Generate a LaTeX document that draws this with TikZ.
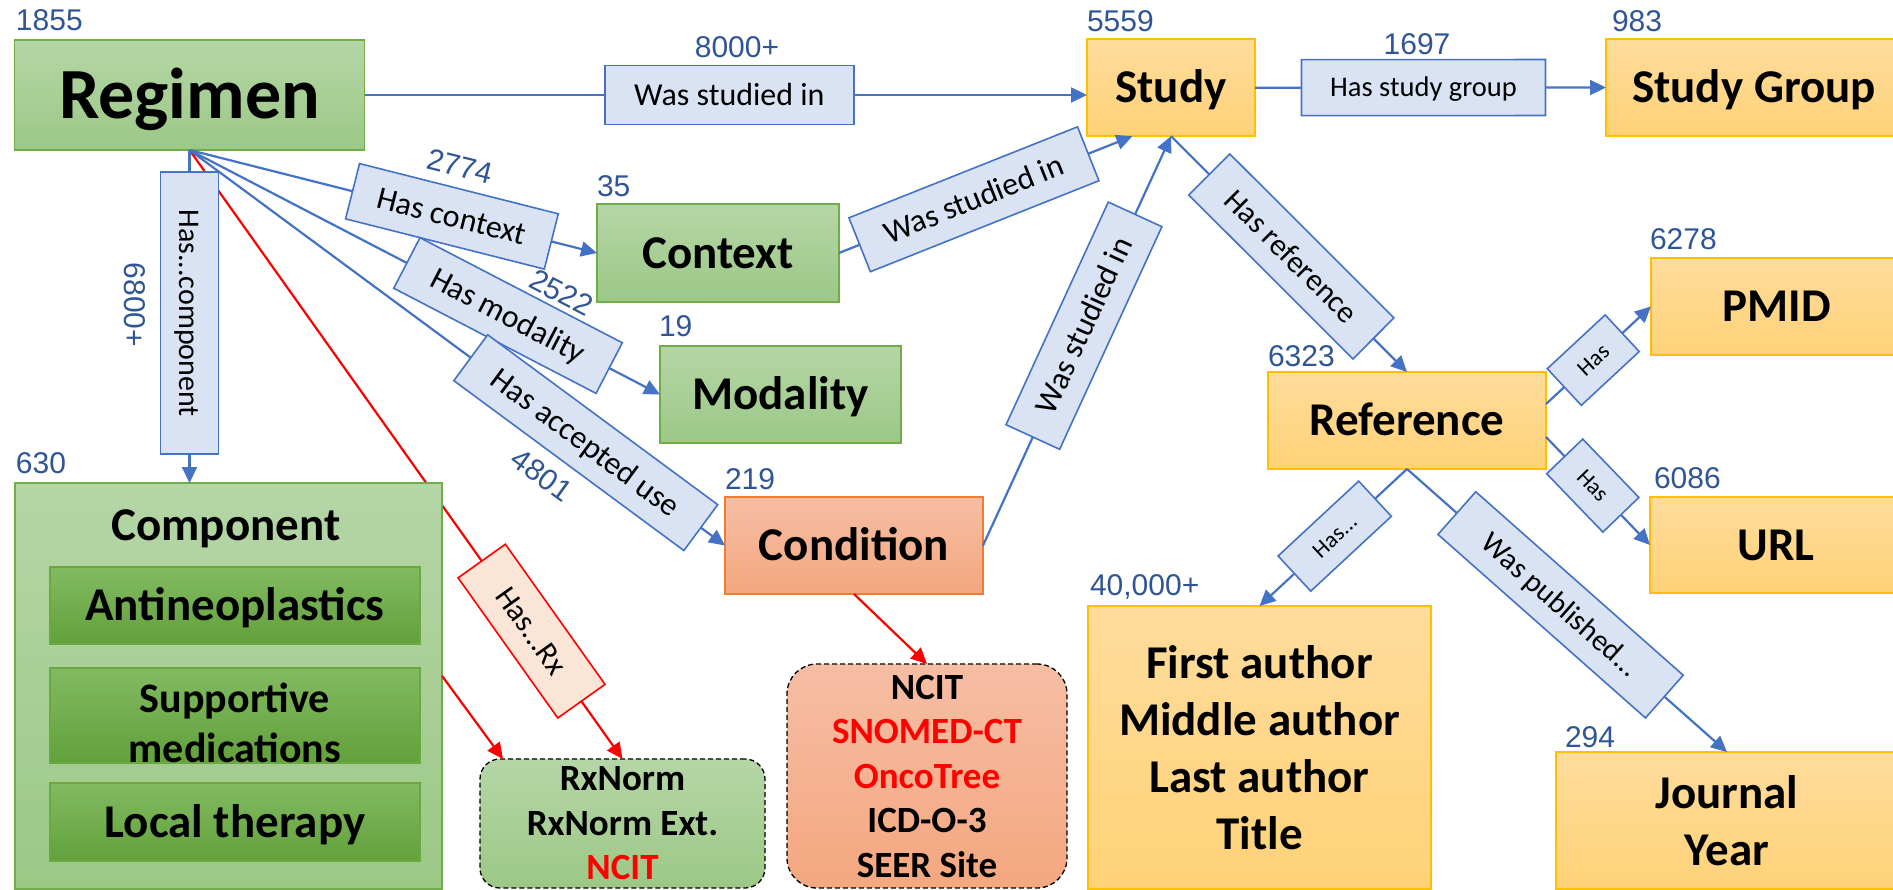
\documentclass[tikz,border=0pt]{standalone}
\usepackage{fontspec}
\setmainfont{Carlito}
\newfontfamily\numfont{Liberation Sans}
\usetikzlibrary{arrows.meta,calc}
\definecolor{grTop}{HTML}{B5D6A7}
\definecolor{grBot}{HTML}{9CC886}
\definecolor{grBd}{HTML}{70AD47}
\definecolor{inTop}{HTML}{82BA62}
\definecolor{inBot}{HTML}{62A13A}
\definecolor{inBd}{HTML}{6AA842}
\definecolor{orTop}{HTML}{FFDC9C}
\definecolor{orBot}{HTML}{FFD278}
\definecolor{orBd}{HTML}{FFC000}
\definecolor{cdTop}{HTML}{F6BEA4}
\definecolor{cdBot}{HTML}{F4A77F}
\definecolor{cdBd}{HTML}{ED7D31}
\definecolor{lblue}{HTML}{4472C4}
\definecolor{lfill}{HTML}{DAE3F3}
\definecolor{rxfill}{HTML}{FBE5D6}
\definecolor{numblue}{HTML}{2F5597}
\definecolor{myred}{HTML}{FF0000}
\newcommand\fbig{\bfseries\fontsize{47}{57}\selectfont}
\newcommand\fmid{\bfseries\fontsize{42}{50}\selectfont}
\newcommand\fsrc{\bfseries\fontsize{37}{44.5}\selectfont}
\begin{document}
\begin{tikzpicture}[x=1pt,y=-1pt,
  every node/.style={inner sep=0pt,outer sep=0pt},
  cap72/.style={text height=46.4pt,text depth=0pt},
  cap47/.style={text height=30.3pt,text depth=0pt},
  gbox/.style={draw=grBd,line width=1.5pt,top color=grTop,bottom color=grBot,font=\fbig},
  obox/.style={draw=orBd,line width=1.5pt,top color=orTop,bottom color=orBot,font=\fbig},
  cbox/.style={draw=cdBd,line width=1.5pt,top color=cdTop,bottom color=cdBot,font=\fbig},
  ibox/.style={draw=inBd,line width=1.2pt,top color=inTop,bottom color=inBot,font=\fbig,minimum width=370},
  dbox/.style={draw=black,line width=1.3pt,dash pattern=on 5pt off 3pt,align=center,font=\fsrc},
  elab/.style={draw=lblue,line width=1.6pt,fill=lfill,text=black,sloped,font=\fontsize{32}{36}\selectfont,text height=20.6pt,text depth=0pt},
  slab/.style={elab,font=\fontsize{23}{26}\selectfont,text height=14.8pt},
  rlab/.style={draw=myred,line width=1.6pt,fill=rxfill,text=black,sloped,font=\fontsize{31}{36}\selectfont,text height=20pt,text depth=0pt},
  num/.style={font=\numfont\fontsize{30}{34}\selectfont,text=numblue},
  bl/.style={draw=lblue,line width=2.2pt,-{Triangle[length=16pt,width=15pt]}},
  rd/.style={draw=myred,line width=2.2pt,-{Triangle[length=16pt,width=15pt]}}]
\useasboundingbox (0,0) rectangle (1893,890);
\clip (0,0) rectangle (1893,890);

% main nodes
\node[gbox,cap72,font=\bfseries\fontsize{72}{80}\selectfont,minimum width=350,minimum height=110] (reg) at (189.5,95) {Regimen};
\node[obox,cap47,minimum width=168,minimum height=97] (study) at (1171,87.7) {Study};
\node[obox,cap47,minimum width=296,minimum height=97] (sgroup) at (1754,87.5) {Study Group};
\node[gbox,cap47,minimum width=242,minimum height=98] (ctx) at (718,253) {Context};
\node[gbox,cap47,minimum width=241,minimum height=97] (mod) at (780.5,394.5) {Modality};
\node[cbox,cap47,minimum width=258,minimum height=97] (cond) at (854,545.5) {Condition};
\node[obox,cap47,minimum width=278,minimum height=97] (ref) at (1407,420.5) {Reference};
\node[obox,cap47,minimum width=251,minimum height=97] (pmid) at (1776.5,306.5) {PMID};
\node[obox,cap47,minimum width=252,minimum height=96] (url) at (1776,545) {URL};
\node[obox,align=center,minimum width=343,minimum height=283] (auth) at (1259.5,747.5) {First author\\Middle author\\Last author\\Title};
\node[obox,align=center,minimum width=342,minimum height=137] (journ) at (1727,820.5) {Journal\\Year};
\node[dbox,top color=grTop,bottom color=grBot,rounded corners=20pt,minimum width=285,minimum height=129] (rx) at (622.5,823.5) {RxNorm\\RxNorm Ext.\\\textcolor{myred}{NCIT}};
\node[dbox,top color=cdTop,bottom color=cdBot,rounded corners=30pt,minimum width=280,minimum height=224] (ncitc) at (927,776) {NCIT\\\textcolor{myred}{SNOMED-CT}\\\textcolor{myred}{OncoTree}\\ICD-O-3\\SEER Site};

% red connector behind the component box
\draw[rd] (reg.south) -- node[rlab,pos=0.79,minimum width=172,minimum height=58] (lrx) {Has...Rx} (rx.north);

% component box
\node[gbox,minimum width=427,minimum height=406] (comp) at (228.5,686) {};
\node[font=\fbig,anchor=base] (comptxt) at (226,540) {Component};
\node[ibox,cap47,minimum height=77] (antin) at (235,605.5) {Antineoplastics};
\node[ibox,minimum height=95] (supp) at (235,715.5) {};
\node[font=\fmid,align=center] (supptxt) at (235,723) {Supportive\\medications};
\node[ibox,cap47,minimum height=78] (local) at (235,822) {Local therapy};

% red connectors
\draw[rd] ($(comp.north east)!0.475!(comp.south east)$) -- ($(rx.north west)+(23,0)$);
\draw[rd] (cond.south) -- (ncitc.north);

% blue connectors from Regimen
\draw[bl] (reg.east) -- node[elab,pos=0.505,minimum width=249,minimum height=59] (lws1) {Was studied in} (reg.east -| study.west);
\draw[bl] (reg.south) -- node[elab,pos=0.49,font=\fontsize{30}{34}\selectfont,text height=19.3pt,minimum width=282,minimum height=58] (lcomp) {Has...component} (reg.south |- comp.north);
\draw[bl] (reg.south) -- node[elab,pos=0.644,minimum width=205,minimum height=57] (lctx) {Has context} (ctx.west);
\draw[bl] (reg.south) -- node[elab,pos=0.677,minimum width=228,minimum height=57] (lmod) {Has modality} (mod.west);
\draw[bl] (reg.south) -- node[elab,pos=0.74,minimum width=286,minimum height=57] (lacc) {Has accepted use} (cond.west);

% to Study
\draw[bl] (ctx.east) -- node[elab,pos=0.46,minimum width=246,minimum height=58] (lws2) {Was studied in} ($(study.south west)!0.27!(study.south east)$);
\draw[bl] (cond.east) -- node[elab,pos=0.537,minimum width=245,minimum height=59] (lws3) {Was studied in} (study.south);
\draw[bl] (study.east) -- node[elab,pos=0.48,font=\fontsize{28.5}{32}\selectfont,text height=18.4pt,minimum width=244,minimum height=56] (lsg) {Has study group} (sgroup.west);
\draw[bl] (study.south) -- node[elab,pos=0.51,font=\fontsize{31}{36}\selectfont,text height=20pt,minimum width=232,minimum height=58] (lref) {Has reference} (ref.north);

% from Reference
\draw[bl] ($(ref.north east)!0.33!(ref.south east)$) -- node[slab,pos=0.45,minimum width=79,minimum height=50] (lpmid) {Has} (pmid.west);
\draw[bl] ($(ref.north east)!0.67!(ref.south east)$) -- node[slab,pos=0.45,minimum width=81,minimum height=50] (lurl) {Has} (url.west);
\draw[bl] (ref.south) -- node[slab,pos=0.49,minimum width=110,minimum height=48] (lauth) {Has...} (auth.north);
\draw[bl] (ref.south) -- node[elab,pos=0.48,font=\fontsize{30}{34}\selectfont,text height=19.3pt,minimum width=277,minimum height=57] (lpub) {Was published...} (journ.north);

% counts
\node[num,anchor=base west] (n1855) at (16,31) {1855};
\node[num,anchor=base] (n8000) at (737,58) {8000+};
\node[num,anchor=base west] (n5559) at (1087,32) {5559};
\node[num,anchor=base] (n1697) at (1417,55) {1697};
\node[num,anchor=base west] (n983) at (1612,32) {983};
\node[num,anchor=base west] (n35) at (597,197) {35};
\node[num,anchor=base west] (n19) at (659,337) {19};
\node[num,anchor=base west] (n219) at (725,489) {219};
\node[num,anchor=base west] (n630) at (16,473) {630};
\node[num,anchor=base west] (n6323) at (1268,367) {6323};
\node[num,anchor=base west] (n6278) at (1650,250) {6278};
\node[num,anchor=base west] (n6086) at (1654,488) {6086};
\node[num,anchor=base west] (n40000) at (1090,595) {40,000+};
\node[num,anchor=base west] (n294) at (1565,747) {294};
\node[num,rotate=-13.8] (n2774) at (460,166) {2774};
\node[num,rotate=-27.3] (n2522) at (561.5,292.5) {2522};
\node[num,rotate=-36] (n4801) at (541.7,475) {4801};
\node[num,rotate=-90] (n6800) at (135,305) {6800+};
\end{tikzpicture}
\end{document}
